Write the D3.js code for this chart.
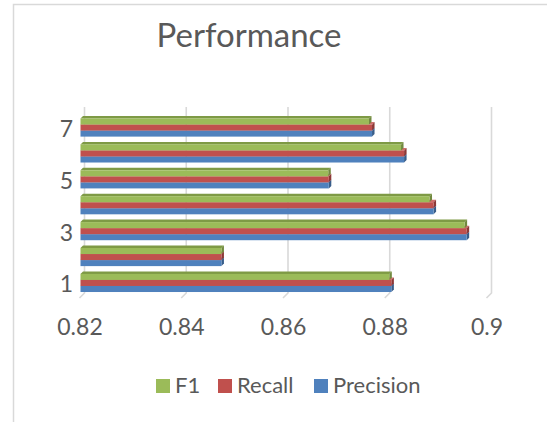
<!DOCTYPE html>
<html>
<head>
<meta charset="utf-8">
<script src="https://cdn.jsdelivr.net/npm/d3@7"></script>
<style>
  html, body { margin: 0; padding: 0; background: #fff; }
  svg { display: block; }
  text { font-family: Lato, "Noto Sans", sans-serif; fill: #595959; }
</style>
</head>
<body>
<svg id="chart" width="547" height="422"></svg>
<script>
// Categories (run index) and per-series scores
const categories = ["1", "2", "3", "4", "5", "6", "7"];
const precision = [0.8813, 0.8479, 0.8961, 0.8896, 0.8690, 0.8838, 0.8775];
const recall    = [0.8813, 0.8479, 0.8961, 0.8896, 0.8690, 0.8838, 0.8775];
const f1        = [0.8809, 0.8479, 0.8957, 0.8888, 0.8689, 0.8832, 0.8769];
const xTicks = [0.82, 0.84, 0.86, 0.88, 0.9];
const yLabels = ["1", "3", "5", "7"];

const seriesList = [
  { name: "Precision", values: precision, front: "#4F81BD", top: "#6f98cc", side: "#385D8A" },
  { name: "Recall",    values: recall,    front: "#C0504D", top: "#cf6d6a", side: "#8C3836" },
  { name: "F1",        values: f1,        front: "#9BBB59", top: "#7e9a45", side: "#71893F" }
];
const legendOrder = ["F1", "Recall", "Precision"];

const svg = d3.select("#chart");

// Chart frame
svg.append("rect")
  .attr("x", 13.5).attr("y", 4.5)
  .attr("width", 600).attr("height", 430)
  .attr("fill", "none").attr("stroke", "#d9d9d9").attr("stroke-width", 1.5);

// Title
svg.append("text")
  .attr("x", 249).attr("y", 47)
  .attr("text-anchor", "middle")
  .style("font-size", "33px")
  .text("Performance");

// Scales (front plane of the 3D plot)
const x = d3.scaleLinear().domain([0.82, 0.9]).range([79.5, 486.5]);
const y = d3.scaleBand().domain(categories.slice().reverse())
  .range([114.6, 295.9]).paddingInner(0.3).paddingOuter(0.15);

// Depth of the 3D box
const wallDX = 5, wallDY = -5;
const floorY = 298, wallTop = 107;

// Back-wall gridlines with floor diagonals
const grid = svg.append("g");
xTicks.forEach(t => {
  const fx = x(t);
  grid.append("path")
    .attr("d", `M${fx + wallDX},${wallTop} L${fx + wallDX},${floorY + wallDY} L${fx},${floorY}`)
    .attr("fill", "none").attr("stroke", "#d9d9d9").attr("stroke-width", 1.6);
});

// X axis tick labels
const xAxis = d3.axisBottom(x).tickValues(xTicks).tickSize(0).tickPadding(0)
  .tickFormat(d => d3.format("")(+d.toFixed(2)));
const gx = svg.append("g").attr("transform", `translate(0,${335})`).call(xAxis);
gx.select(".domain").remove();
gx.selectAll("text").attr("dy", 0).attr("y", 0).style("font-size", "23px")
  .attr("font-family", null).style("fill", "#595959");

// Y axis labels (every other category)
const yAxis = d3.axisLeft(y).tickValues(yLabels).tickSize(0).tickPadding(0);
const gy = svg.append("g").attr("transform", `translate(73,2)`).call(yAxis);
gy.select(".domain").remove();
gy.selectAll("text").style("font-size", "23px").attr("font-family", null).style("fill", "#595959");

// 3D bars: each category has three stacked sub-bars, Precision at bottom
const bd = 2.5; // bar depth offset
const sub = d3.scaleBand().domain(["F1", "Recall", "Precision"]).range([0, y.bandwidth()]);
const bars = svg.append("g");
const x0 = x(0.82) + 1;
categories.forEach((c, i) => {
  seriesList.forEach(s => {
    const y0 = y(c) + sub(s.name);
    const h = sub.bandwidth();
    const x1 = x(s.values[i]);
    const g = bars.append("g");
    // top face
    g.append("path")
      .attr("d", `M${x0},${y0} L${x0 + bd},${y0 - bd} L${x1 + bd},${y0 - bd} L${x1},${y0} Z`)
      .attr("fill", s.top);
    // side face
    g.append("path")
      .attr("d", `M${x1},${y0} L${x1 + bd},${y0 - bd} L${x1 + bd},${y0 + h - bd} L${x1},${y0 + h} Z`)
      .attr("fill", s.side);
    // front face
    g.append("rect")
      .attr("x", x0).attr("y", y0)
      .attr("width", x1 - x0).attr("height", h)
      .attr("fill", s.front);
  });
});

// Legend
const legendPos = { "F1": 156, "Recall": 218, "Precision": 314 };
const colorOf = Object.fromEntries(seriesList.map(s => [s.name, s.front]));
const lg = svg.append("g");
legendOrder.forEach(name => {
  const lx = legendPos[name];
  lg.append("rect").attr("x", lx).attr("y", 379).attr("width", 14).attr("height", 14)
    .attr("fill", colorOf[name]);
  lg.append("text").attr("x", lx + 19).attr("y", 393)
    .style("font-size", "22px").text(name);
});
</script>
</body>
</html>
